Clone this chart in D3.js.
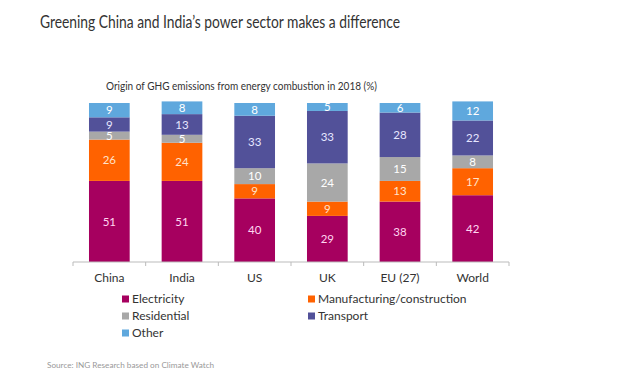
<!DOCTYPE html>
<html>
<head>
<meta charset="utf-8">
<script src="https://cdn.jsdelivr.net/npm/d3@7"></script>
<style>
  html, body { margin: 0; padding: 0; background: #fff; }
  svg { display: block; }
  text { font-family: Lato, "Open Sans", sans-serif; }
</style>
</head>
<body>
<svg id="chart" width="630" height="381"></svg>
<script>
const categories = ["China", "India", "US", "UK", "EU (27)", "World"];
const seriesNames = ["Electricity", "Manufacturing/construction", "Residential", "Transport", "Other"];
const electricity   = [51, 51, 40, 29, 38, 42];
const manufacturing = [26, 24, 9, 9, 13, 17];
const residential   = [5, 5, 10, 24, 15, 8];
const transport     = [9, 13, 33, 33, 28, 22];
const other         = [9, 8, 8, 5, 6, 12];
const colors = ["#A6005F", "#FF6200", "#A8A8A8", "#525199", "#5FA8DD"];
const labelColors = ["#FFD6F0", "#FFE3CC", "#FFFFFF", "#E6E6FF", "#FFFFFF"];

const seriesValues = [electricity, manufacturing, residential, transport, other];
const rows = categories.map((c, i) => {
  const r = { category: c };
  seriesNames.forEach((s, j) => r[s] = seriesValues[j][i]);
  return r;
});

const svg = d3.select("#chart");

svg.append("text")
  .attr("x", 40).attr("y", 28)
  .attr("font-size", 16.5)
  .attr("fill", "#333")
  .attr("textLength", 360)
  .attr("lengthAdjust", "spacingAndGlyphs")
  .text("Greening China and India\u2019s power sector makes a difference");

svg.append("text")
  .attr("x", 106).attr("y", 90)
  .attr("font-size", 11.5)
  .attr("fill", "#333")
  .attr("textLength", 271)
  .attr("lengthAdjust", "spacingAndGlyphs")
  .text("Origin of GHG emissions from energy combustion in 2018 (%)");

const x = d3.scaleBand().domain(categories).range([73, 509]).paddingInner(0.44).paddingOuter(0.22);
const y = d3.scaleLinear().domain([0, 100]).range([262, 103]);

const stack = d3.stack().keys(seriesNames);
const stacked = stack(rows);

const g = svg.append("g");
stacked.forEach((layer, j) => {
  const lg = g.append("g");
  lg.selectAll("rect").data(layer).join("rect")
    .attr("x", d => x(d.data.category))
    .attr("width", x.bandwidth())
    .attr("y", d => y(d[1]))
    .attr("height", d => y(d[0]) - y(d[1]))
    .attr("fill", colors[j]);
  lg.selectAll("text").data(layer).join("text")
    .attr("x", d => x(d.data.category) + x.bandwidth() / 2)
    .attr("y", d => (y(d[0]) + y(d[1])) / 2)
    .attr("dy", "0.36em")
    .attr("text-anchor", "middle")
    .attr("font-size", 11.5)
    .attr("fill", labelColors[j])
    .text(d => d[1] - d[0]);
});

// axis
const axisG = svg.append("g").attr("transform", "translate(0,262)");
axisG.append("line").attr("x1", 73).attr("x2", 509).attr("stroke", "#BBB").attr("stroke-width", 1);
const tickPos = categories.map(c => x(c) - x.step() * x.paddingInner() / 2);
tickPos.push(509);
axisG.selectAll("line.tick").data(tickPos).join("line")
  .attr("class", "tick")
  .attr("x1", d => d).attr("x2", d => d)
  .attr("y1", 0).attr("y2", 4)
  .attr("stroke", "#BBB");
axisG.selectAll("text").data(categories).join("text")
  .attr("x", d => x(d) + x.bandwidth() / 2)
  .attr("y", 20)
  .attr("text-anchor", "middle")
  .attr("font-size", 12)
  .attr("fill", "#333")
  .text(d => d);

// legend
const legendPos = [[122, 299], [308, 299], [122, 316], [308, 316], [122, 333]];
const lgd = svg.append("g");
seriesNames.forEach((s, j) => {
  const [lx, ly] = legendPos[j];
  lgd.append("rect").attr("x", lx).attr("y", ly - 3.5).attr("width", 7).attr("height", 7).attr("fill", colors[j]);
  lgd.append("text").attr("x", lx + 10).attr("y", ly).attr("dy", "0.36em")
    .attr("font-size", 12).attr("fill", "#333").text(s);
});

svg.append("text")
  .attr("x", 47).attr("y", 368)
  .attr("font-size", 8.2)
  .attr("fill", "#999")
  .text("Source: ING Research based on Climate Watch");
</script>
</body>
</html>
